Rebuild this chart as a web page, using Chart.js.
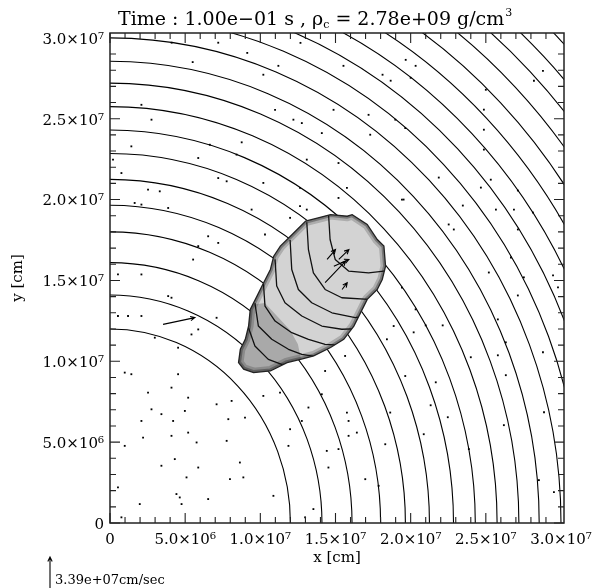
<!DOCTYPE html>
<html>
<head>
<meta charset="utf-8">
<script src="https://cdn.jsdelivr.net/npm/chart.js@4"></script>
<style>
  html, body { margin: 0; padding: 0; background: #fff; }
</style>
</head>
<body>
<canvas id="c" width="595" height="588"></canvas>
<script>
// all lengths in units of 1e6 cm
const xMin = 0, xMax = 30.2, yMin = 0, yMax = 30.3;
const xMajor = [0, 5, 10, 15, 20, 25, 30];
const xLabels = ['0', '5.0×10⁶', '1.0×10⁷', '1.5×10⁷', '2.0×10⁷', '2.5×10⁷', '3.0×10⁷'];
const yMajor = [0, 5, 10, 15, 20, 25, 30];
const yLabels = ['0', '5.0×10⁶', '1.0×10⁷', '1.5×10⁷', '2.0×10⁷', '2.5×10⁷', '3.0×10⁷'];

// density contours (radius of each level)
const contourRadii = [12.0, 14.1, 16.1, 18.0, 19.65, 21.25, 22.85, 24.3, 25.75, 27.2, 28.55,
  30.0, 31.37, 32.71, 34.05, 35.41, 36.75, 38.12, 39.5, 40.8, 42.3];

// burning bubble outline
const blobX = [13.0, 14.11, 14.67, 15.78, 16.11, 17.11, 17.78, 18.22, 18.33, 18.11, 17.78, 17.11,
  16.67, 16.22, 15.55, 14.67, 13.55, 12.67, 11.78, 10.67, 9.55, 8.89, 8.55, 8.67, 9.0, 9.22,
  9.33, 9.78, 10.11, 10.67, 10.89, 11.33, 12.0, 12.67];
const blobY = [18.66, 18.93, 19.07, 18.97, 19.07, 18.46, 17.53, 17.12, 15.88, 15.06, 14.44, 13.83,
  13.01, 12.18, 11.36, 10.85, 10.33, 10.12, 9.92, 9.40, 9.30, 9.51, 9.92, 10.74, 11.36, 12.18,
  13.21, 14.03, 14.65, 15.68, 16.5, 17.12, 17.73, 18.35];

// darker (ash) part of the bubble
const darkX = [9.4, 10.3, 11.2, 12.0, 12.5, 12.7, 11.78, 10.67, 9.55, 8.89, 8.55, 8.67, 9.0, 9.22, 9.33];
const darkY = [13.5, 13.6, 12.7, 11.9, 11.05, 10.15, 9.92, 9.40, 9.30, 9.51, 9.92, 10.74, 11.36, 12.18, 13.21];

// contours seen inside the bubble
const innerX = [
  [14.53, 14.64, 14.98, 15.87, 17.2, 18.5],
  [13.09, 13.2, 13.53, 14.31, 15.42, 17.2, 18.0],
  [11.98, 12.09, 12.53, 13.42, 14.76, 16.31, 17.0],
  [10.98, 11.09, 11.64, 12.76, 14.09, 15.42, 16.2],
  [10.2, 10.31, 10.98, 12.09, 13.2, 14.31, 15.2],
  [9.64, 9.87, 10.76, 11.87, 12.76, 13.6],
  [9.2, 9.64, 10.53, 11.42, 12.4]
];
const innerY = [
  [19.2, 17.53, 16.30, 15.58, 15.47, 15.6],
  [18.6, 16.91, 15.47, 14.44, 13.93, 13.83, 14.1],
  [17.5, 15.68, 14.44, 13.62, 13.0, 12.7, 12.8],
  [16.3, 14.65, 13.62, 12.8, 12.18, 11.98, 12.0],
  [14.9, 13.41, 12.49, 11.77, 11.36, 11.05, 11.0],
  [13.6, 12.18, 11.36, 10.74, 10.43, 10.3],
  [12.1, 10.94, 10.12, 9.81, 9.8]
];

// velocity vectors (tail -> head)
const arrowX0 = [3.53, 14.44, 15.22, 14.89, 14.31, 15.44];
const arrowY0 = [12.28, 16.30, 16.30, 15.88, 14.86, 14.44];
const arrowX1 = [5.65, 15.0, 15.89, 15.89, 15.67, 15.78];
const arrowY1 = [12.70, 16.91, 16.91, 16.30, 16.19, 14.86];

// small velocity marks
const speckX = [2.09, 2.76, 10.98, 12.2, 12.76, 14.87, 17.2, 18.98, 19.64, 14.09, 17.31, 8.76, 1.42,
  6.64, 8.42, 13.09, 15.2, 5.87, 0.2, 0.76, 7.2, 7.76, 10.2, 12.64, 15.76, 15.2, 19.42, 2.53, 3.31,
  1.64, 2.09, 12.64, 13.09, 9.42, 11.98, 3.87, 10.31, 6.53, 7.2, 5.87, 5.53, 2.09, 0.53, 3.87, 4.09,
  0.53, 1.2, 2.09, 7.09, 5.87, 5.42, 2.98, 4.53, 0.98, 1.42, 4.53, 2.53, 4.09, 5.2, 7.09, 8.09, 10.2,
  11.31, 2.76, 3.42, 4.98, 2.09, 4.2, 7.87, 8.98, 5.2, 2.2, 4.09, 5.76, 7.76, 0.98, 4.31, 3.42, 5.87,
  8.64, 5.09, 7.98, 8.87, 0.53, 4.42, 4.64, 6.53, 10.87, 1.98, 4.76, 11.87, 11.98, 12.76, 13.2, 14.09,
  15.76, 15.87, 15.87, 16.42, 15.2, 14.42, 14.53, 16.98, 17.87, 18.31, 18.64, 18.87, 18.42, 15.64,
  14.31, 19.64, 13.53, 12.98, 0.76,
  19.67, 20.33, 20.0, 28.8, 28.2, 25.0, 24.87, 24.87, 24.87, 21.87, 25.33, 24.67, 27.13, 19.53, 23.47,
  25.67, 26.87, 28.13, 22.53, 22.87, 27.13, 25.2, 27.53, 29.47, 29.8, 26.67, 27.13, 20.33, 21.0, 22.13,
  25.8, 20.2, 26.33, 24.0, 25.8, 28.8, 26.33, 21.67, 21.33, 22.47, 28.87, 20.87, 26.2, 23.87, 29.53,
  28.53, 19.42,
  12.67, 9.13, 11.2, 10.2, 15.53, 18.13, 18.67, 4.1, 7.2, 5.5];
const speckY = [25.86, 24.94, 25.55, 24.94, 24.73, 25.55, 25.24, 24.94, 24.42, 24.11, 24.01, 23.54,
  23.29, 23.39, 22.78, 22.47, 22.26, 22.57, 22.47, 21.64, 21.33, 21.13, 21.03, 20.72, 20.72, 20.1,
  20.0, 20.61, 20.51, 19.79, 19.69, 19.59, 19.38, 19.38, 18.87, 19.48, 17.84, 17.73, 17.32, 17.12,
  16.29, 15.37, 15.37, 14.03, 13.93, 12.8, 12.8, 12.8, 12.69, 11.97, 11.66, 11.46, 10.84, 9.3, 9.2,
  9.2, 8.06, 8.37, 7.75, 7.34, 7.55, 7.86, 8.06, 7.03, 6.73, 6.93, 6.31, 6.31, 6.42, 6.52, 5.59, 5.28,
  5.39, 4.98, 5.08, 4.77, 3.95, 3.54, 3.43, 3.74, 2.82, 2.71, 2.82, 2.2, 1.79, 1.58, 1.48, 1.68, 1.17,
  1.17, 4.77, 5.8, 6.31, 7.14, 7.96, 6.83, 6.31, 5.39, 5.59, 4.57, 4.46, 3.43, 2.71, 2.3, 4.87, 6.83,
  12.18, 11.36, 10.33, 9.4, 9.09, 0.86, 0.35, 0.35,
  28.64, 28.27, 27.53, 27.96, 27.35, 26.79, 25.56, 24.32, 23.09, 21.36, 21.23, 20.74, 20.56, 20.0,
  19.63, 19.38, 19.38, 19.2, 18.46, 18.15, 18.15, 15.49, 15.19, 15.31, 14.57, 16.42, 14.07, 13.21,
  12.22, 12.22, 12.59, 11.79, 11.17, 10.25, 10.37, 10.56, 9.14, 8.7, 7.28, 6.54, 6.85, 5.49, 6.05,
  4.57, 1.91, 2.65, 14.55,
  29.69, 29.07, 28.27, 27.72, 28.27, 27.72, 27.35, 29.7, 29.7, 28.5];

const title = 'Time : 1.00e−01 s , ρ';
const titleSub = 'c';
const titleRest = ' = 2.78e+09 g/cm';
const titleSup = '3';
const refArrowText = '3.39e+07cm/sec';

const serif = '"DejaVu Serif", "Liberation Serif", serif';

function drawArrow(ctx, xa, ya, xb, yb) {
  const ang = Math.atan2(yb - ya, xb - xa), h = 5;
  ctx.beginPath();
  ctx.moveTo(xa, ya); ctx.lineTo(xb, yb);
  ctx.moveTo(xb - h * Math.cos(ang - 0.45), yb - h * Math.sin(ang - 0.45));
  ctx.lineTo(xb, yb);
  ctx.lineTo(xb - h * Math.cos(ang + 0.45), yb - h * Math.sin(ang + 0.45));
  ctx.stroke();
}

const fieldPlugin = {
  id: 'field',
  beforeDatasetsDraw(chart) {
    const { ctx, chartArea: a, scales: { x, y } } = chart;
    const px = v => x.getPixelForValue(v), py = v => y.getPixelForValue(v);
    ctx.save();
    ctx.beginPath();
    ctx.rect(a.left, a.top, a.right - a.left, a.bottom - a.top);
    ctx.clip();

    // circular contours
    const x0 = px(0), y0 = py(0);
    ctx.strokeStyle = '#000';
    ctx.lineWidth = 1.1;
    contourRadii.forEach(r => {
      ctx.beginPath();
      ctx.ellipse(x0, y0, px(r) - x0, y0 - py(r), 0, -Math.PI / 2, 0);
      ctx.stroke();
    });

    const poly = (xs, ys) => {
      ctx.beginPath();
      xs.forEach((v, i) => i ? ctx.lineTo(px(v), py(ys[i])) : ctx.moveTo(px(v), py(ys[i])));
      ctx.closePath();
    };

    // bubble
    poly(blobX, blobY);
    ctx.fillStyle = '#d3d3d3';
    ctx.fill();
    ctx.save();
    poly(blobX, blobY);
    ctx.clip();
    poly(darkX, darkY);
    ctx.fillStyle = '#a9a9a9';
    ctx.fill();
    ctx.lineJoin = 'round';
    poly(blobX, blobY);
    ctx.strokeStyle = 'rgba(0,0,0,0.18)';
    ctx.lineWidth = 10;
    ctx.stroke();
    poly(blobX, blobY);
    ctx.strokeStyle = 'rgba(0,0,0,0.3)';
    ctx.lineWidth = 5;
    ctx.stroke();
    ctx.strokeStyle = '#111';
    ctx.lineWidth = 1.3;
    innerX.forEach((xs, k) => {
      ctx.beginPath();
      xs.forEach((v, i) => i ? ctx.lineTo(px(v), py(innerY[k][i])) : ctx.moveTo(px(v), py(innerY[k][i])));
      ctx.stroke();
    });
    ctx.restore();
    poly(blobX, blobY);
    ctx.strokeStyle = '#222';
    ctx.lineWidth = 1.3;
    ctx.stroke();

    // velocity arrows
    ctx.strokeStyle = '#000';
    ctx.lineWidth = 1.1;
    arrowX0.forEach((v, i) => drawArrow(ctx, px(v), py(arrowY0[i]), px(arrowX1[i]), py(arrowY1[i])));
    ctx.restore();
  },
  afterDraw(chart) {
    const { ctx, chartArea: a, scales: { x, y } } = chart;
    ctx.save();
    ctx.strokeStyle = '#222';
    ctx.lineWidth = 1.5;
    ctx.strokeRect(a.left, a.top, a.right - a.left, a.bottom - a.top);

    // inward ticks on all four sides
    ctx.lineWidth = 1.1;
    x.ticks.forEach(t => {
      if (Math.abs(t.value - Math.round(t.value)) > 1e-6) return;
      const p = x.getPixelForValue(t.value);
      const len = t.value % 5 === 0 ? 10 : 6;
      ctx.beginPath();
      ctx.moveTo(p, a.bottom); ctx.lineTo(p, a.bottom - len);
      ctx.moveTo(p, a.top); ctx.lineTo(p, a.top + len);
      ctx.stroke();
    });
    y.ticks.forEach(t => {
      if (Math.abs(t.value - Math.round(t.value)) > 1e-6) return;
      const p = y.getPixelForValue(t.value);
      const len = t.value % 5 === 0 ? 10 : 6;
      ctx.beginPath();
      ctx.moveTo(a.left, p); ctx.lineTo(a.left + len, p);
      ctx.moveTo(a.right, p); ctx.lineTo(a.right - len, p);
      ctx.stroke();
    });

    // tick labels
    ctx.fillStyle = '#000';
    ctx.font = '15px ' + serif;
    ctx.textAlign = 'center';
    ctx.textBaseline = 'alphabetic';
    xMajor.forEach((v, i) => ctx.fillText(xLabels[i], x.getPixelForValue(v), a.bottom + 21));
    ctx.textAlign = 'right';
    ctx.textBaseline = 'middle';
    yMajor.forEach((v, i) => ctx.fillText(yLabels[i], a.left - 6, y.getPixelForValue(v) + 2));

    // axis titles
    ctx.textAlign = 'center';
    ctx.textBaseline = 'alphabetic';
    ctx.fillText('x [cm]', (a.left + a.right) / 2, a.bottom + 39);
    ctx.save();
    ctx.translate(22, (a.top + a.bottom) / 2);
    ctx.rotate(-Math.PI / 2);
    ctx.fillText('y [cm]', 0, 0);
    ctx.restore();

    // title with subscript / superscript
    ctx.textAlign = 'left';
    ctx.font = '19px ' + serif;
    const small = '11px ' + serif;
    let cx = 118;
    const base = 25;
    ctx.fillText(title, cx, base); cx += ctx.measureText(title).width;
    ctx.font = small; ctx.fillText(titleSub, cx, base + 3); cx += ctx.measureText(titleSub).width;
    ctx.font = '19px ' + serif; ctx.fillText(titleRest, cx, base); cx += ctx.measureText(titleRest).width;
    ctx.font = small; ctx.fillText(titleSup, cx + 1, base - 9);

    // reference velocity arrow
    ctx.strokeStyle = '#000';
    ctx.lineWidth = 1.1;
    drawArrow(ctx, 50, 588, 50, 557);
    ctx.font = '13px ' + serif;
    ctx.fillText(refArrowText, 55, 584);
    ctx.restore();
  }
};

new Chart(document.getElementById('c'), {
  type: 'scatter',
  data: {
    datasets: [{
      data: speckX.map((v, i) => ({ x: v, y: speckY[i] })),
      pointStyle: 'rect',
      pointRadius: 1.3,
      backgroundColor: '#000',
      borderWidth: 0
    }]
  },
  options: {
    responsive: false,
    animation: false,
    events: [],
    layout: { padding: { left: 110, right: 31, top: 33, bottom: 65 } },
    plugins: { legend: { display: false }, tooltip: { enabled: false } },
    scales: {
      x: {
        type: 'linear', min: xMin, max: xMax,
        ticks: { display: false, stepSize: 1 },
        grid: { display: false }, border: { display: false },
        afterFit: s => { s.height = 0; }
      },
      y: {
        type: 'linear', min: yMin, max: yMax,
        ticks: { display: false, stepSize: 1 },
        grid: { display: false }, border: { display: false },
        afterFit: s => { s.width = 0; }
      }
    }
  },
  plugins: [fieldPlugin]
});
</script>
</body>
</html>
